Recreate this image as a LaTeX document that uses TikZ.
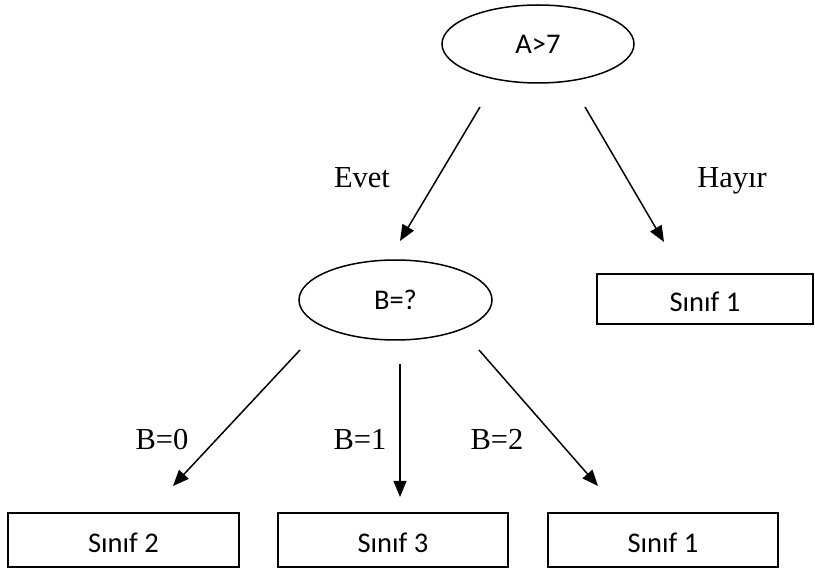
\documentclass[tikz,border=0pt]{standalone}
\usepackage{fontspec}
\usetikzlibrary{shapes.geometric,arrows.meta}
\newfontfamily\boxfont{Carlito}
\newfontfamily\labfont{Liberation Serif}
\tikzset{
  oval/.style={ellipse,draw,line width=1.5pt,inner sep=0pt,font=\boxfont\fontsize{28.5}{30}\selectfont},
  classbox/.style={rectangle,draw,line width=1.4pt,inner sep=0pt,minimum height=54pt,text height=26pt,text depth=0pt,font=\boxfont\fontsize{28.5}{30}\selectfont},
  edgelab/.style={anchor=base,inner sep=0pt,font=\labfont\fontsize{30.5}{32}\selectfont},
  arr/.style={line width=1.5pt,-{Triangle[length=16pt,width=13pt]}}
}
\begin{document}
\begin{tikzpicture}[x=1pt,y=-1pt]
\useasboundingbox (0,0) rectangle (815,569);
\node[oval,minimum width=192pt,minimum height=78pt] (A) at (538,44) {A>7};
\node[oval,minimum width=193pt,minimum height=80pt] (B) at (395.5,300) {B=?};
\node[classbox,minimum width=216pt,minimum height=50pt] (C1r) at (705,299) {Sınıf 1};
\node[classbox,minimum width=231pt] (C2) at (123.5,540) {Sınıf 2};
\node[classbox,minimum width=230pt] (C3) at (393,540) {Sınıf 3};
\node[classbox,minimum width=230pt] (C1b) at (663,540) {Sınıf 1};
\coordinate (a1) at (480,107);
\coordinate (a1e) at (400,241);
\coordinate (a2) at (585,107);
\coordinate (a2e) at (664,242);
\coordinate (b1) at (300,350);
\coordinate (b1e) at (173,486);
\coordinate (b2) at (400,364);
\coordinate (b2e) at (400,497);
\coordinate (b3) at (479,350);
\coordinate (b3e) at (598,486);
\draw[arr] (a1) -- (a1e);
\draw[arr] (a2) -- (a2e);
\draw[arr] (b1) -- (b1e);
\draw[arr] (b2) -- (b2e);
\draw[arr] (b3) -- (b3e);
\node[edgelab] (levet) at (362,188) {Evet};
\node[edgelab] (lhayir) at (732,188) {Hayır};
\node[edgelab] (lb0) at (162,450) {B=0};
\node[edgelab] (lb1) at (360,450) {B=1};
\node[edgelab] (lb2) at (497,450) {B=2};
\end{tikzpicture}
\end{document}
